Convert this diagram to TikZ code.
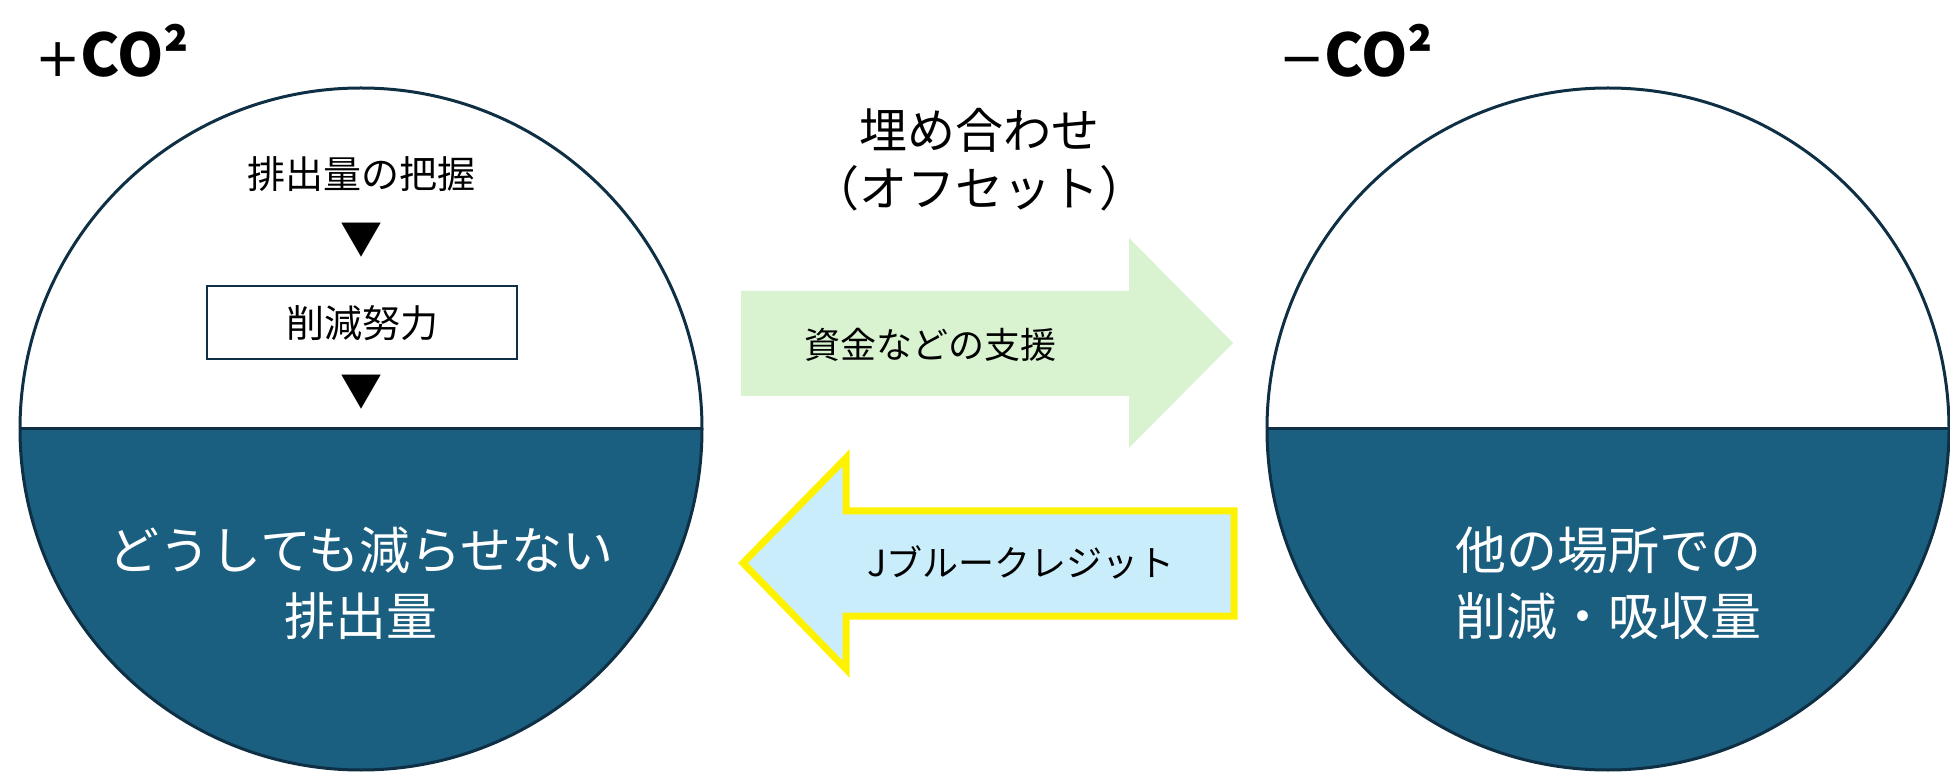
\documentclass[tikz,border=0pt]{standalone}
\usepackage{fontspec}
\setmainfont{Noto Sans CJK JP}
\newfontfamily\signfont{DejaVu Sans}
\usepackage{tikz}
\usetikzlibrary{calc}
\usetikzlibrary{positioning}

\definecolor{deepsea}{RGB}{26,94,128}
\definecolor{rimline}{RGB}{14,47,68}
\definecolor{paygreen}{HTML}{D9F2D0}
\definecolor{creditblue}{HTML}{CAEDFB}

\begin{document}
\begin{tikzpicture}[x=0.5pt, y=0.5pt,
  rim/.style={draw=rimline, line width=1.5pt},
  note/.style={font=\fontsize{19pt}{23pt}\selectfont, inner sep=0pt},
  half/.style={text=white, align=center, font=\fontsize{25.5pt}{33pt}\selectfont},
  sign/.style={anchor=west, inner sep=0pt, font=\fontsize{29.5pt}{31pt}\selectfont\bfseries}]
  \useasboundingbox (0,0) rectangle (1950,772);

  \foreach \cx/\nm in {361/plus, 1608/minus} {
    \coordinate (\nm) at (\cx, 343);
    \begin{scope}
      \clip (\nm) circle[radius=341];
      \fill[deepsea] (\cx-341, 343) rectangle (\cx+341, 0);
    \end{scope}
    \draw[rim] (\nm) circle[radius=341];
    \draw[rim] (\cx-341, 343) -- (\cx+341, 343);
  }

  \node[sign] (plusco) at (35, 721) {{\signfont\mdseries\fontsize{27pt}{31pt}\selectfont +}CO²};
  \node[sign] (minusco) at (1279, 721) {{\signfont\mdseries\fontsize{27pt}{31pt}\selectfont −}CO²};

  \node[note] (grasp) at (361, 598) {排出量の把握};
  \node[note, font=\fontsize{21pt}{23pt}\selectfont] (tri1) at (361, 532) {▼};
  \node[note, draw=rimline, line width=1pt, minimum width=155pt,
        minimum height=36.5pt] (effort) at (362, 449) {削減努力};
  \node[note, font=\fontsize{21pt}{23pt}\selectfont] (tri2) at (361, 380) {▼};

  \node[half] (stuck) at (361, 189) {どうしても減らせない\\排出量};
  \node[half] (offset) at (1608, 189) {他の場所での\\削減・吸収量};

  \node[align=center, font=\fontsize{24pt}{29pt}\selectfont] (title) at (979, 612)
    {埋め合わせ\\（オフセット）};

  \fill[paygreen] (741,376) -- (1129,376) -- (1129,324) -- (1233,429)
    -- (1129,534) -- (1129,481) -- (741,481) -- cycle;
  \node[font=\fontsize{18pt}{20pt}\selectfont] (fund) at (930, 427) {資金などの支援};

  \draw[yellow, line width=3.5pt, fill=creditblue] (1234,261) -- (846,261)
    -- (846,314) -- (743,209) -- (846,103) -- (846,156) -- (1234,156) -- cycle;
  \node[font=\fontsize{18pt}{20pt}\selectfont] (credit) at (1021, 210) {Jブルークレジット};
\end{tikzpicture}
\end{document}
